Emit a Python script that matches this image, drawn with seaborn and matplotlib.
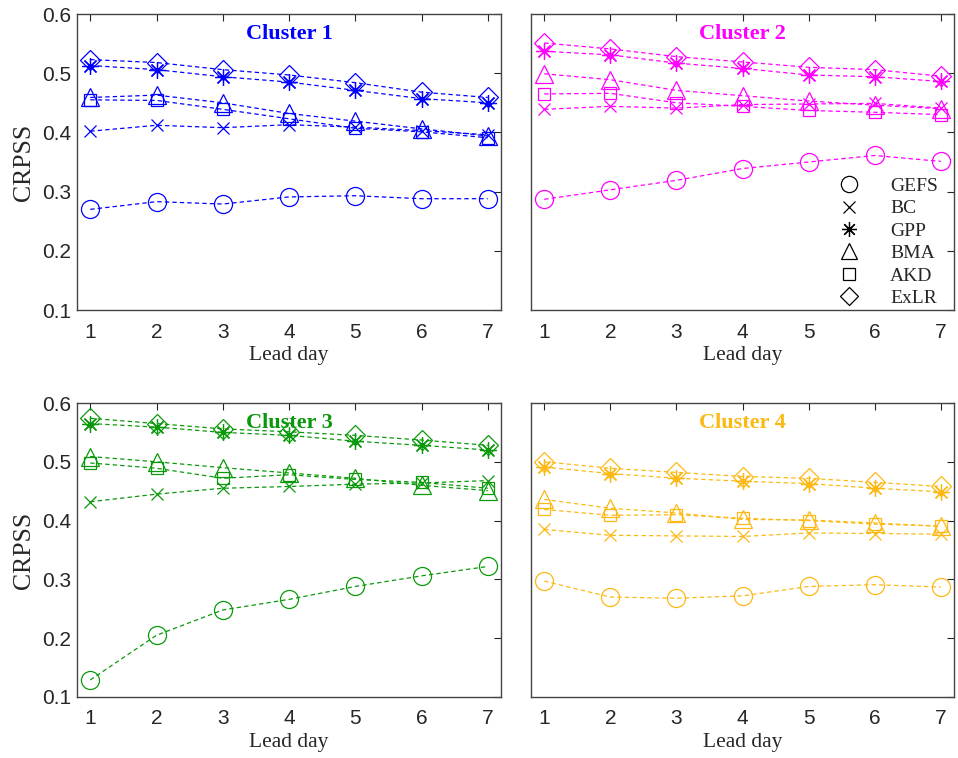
import numpy as np
import pandas as pd
import matplotlib
matplotlib.use("Agg")
import matplotlib.pyplot as plt
from matplotlib.lines import Line2D
import seaborn as sns

lead_days = [1, 2, 3, 4, 5, 6, 7]
methods = ["GEFS", "BC", "GPP", "BMA", "AKD", "ExLR"]
clusters = ["Cluster 1", "Cluster 2", "Cluster 3", "Cluster 4"]
cluster_colors = ["#0000FF", "#FF00FF", "#0A990A", "#FDB913"]

c1_gefs = [0.270, 0.283, 0.279, 0.291, 0.293, 0.288, 0.288]
c1_bc   = [0.402, 0.412, 0.408, 0.413, 0.409, 0.403, 0.396]
c1_gpp  = [0.513, 0.506, 0.494, 0.485, 0.471, 0.457, 0.450]
c1_bma  = [0.459, 0.463, 0.450, 0.432, 0.419, 0.406, 0.394]
c1_akd  = [0.455, 0.454, 0.439, 0.423, 0.407, 0.401, 0.391]
c1_exlr = [0.523, 0.518, 0.506, 0.497, 0.484, 0.468, 0.459]

c2_gefs = [0.287, 0.303, 0.319, 0.339, 0.350, 0.361, 0.351]
c2_bc   = [0.439, 0.444, 0.441, 0.447, 0.448, 0.449, 0.441]
c2_gpp  = [0.537, 0.531, 0.517, 0.508, 0.497, 0.494, 0.486]
c2_bma  = [0.499, 0.489, 0.471, 0.462, 0.453, 0.446, 0.440]
c2_akd  = [0.465, 0.466, 0.450, 0.444, 0.437, 0.434, 0.430]
c2_exlr = [0.551, 0.541, 0.528, 0.519, 0.510, 0.506, 0.495]

c3_gefs = [0.129, 0.205, 0.248, 0.266, 0.288, 0.306, 0.322]
c3_bc   = [0.432, 0.445, 0.455, 0.458, 0.462, 0.464, 0.468]
c3_gpp  = [0.565, 0.559, 0.550, 0.545, 0.535, 0.528, 0.520]
c3_bma  = [0.509, 0.500, 0.490, 0.481, 0.472, 0.460, 0.451]
c3_akd  = [0.498, 0.489, 0.472, 0.478, 0.470, 0.465, 0.455]
c3_exlr = [0.574, 0.565, 0.556, 0.551, 0.545, 0.537, 0.528]

c4_gefs = [0.297, 0.270, 0.268, 0.272, 0.288, 0.291, 0.287]
c4_bc   = [0.385, 0.375, 0.374, 0.373, 0.379, 0.378, 0.377]
c4_gpp  = [0.491, 0.480, 0.472, 0.467, 0.463, 0.455, 0.449]
c4_bma  = [0.436, 0.421, 0.413, 0.402, 0.401, 0.396, 0.390]
c4_akd  = [0.419, 0.409, 0.410, 0.404, 0.400, 0.394, 0.391]
c4_exlr = [0.500, 0.489, 0.482, 0.475, 0.472, 0.465, 0.458]

all_data = [
    [c1_gefs, c1_bc, c1_gpp, c1_bma, c1_akd, c1_exlr],
    [c2_gefs, c2_bc, c2_gpp, c2_bma, c2_akd, c2_exlr],
    [c3_gefs, c3_bc, c3_gpp, c3_bma, c3_akd, c3_exlr],
    [c4_gefs, c4_bc, c4_gpp, c4_bma, c4_akd, c4_exlr],
]

marker_map = {"GEFS": "o", "BC": "x", "GPP": (8, 2, 0), "BMA": "^", "AKD": "s", "ExLR": "D"}
msize_map = {"GEFS": 13, "BC": 9, "GPP": 12, "BMA": 13, "AKD": 9, "ExLR": 10}

sns.set_theme(style="white")
plt.rcParams["font.family"] = ["Liberation Sans", "DejaVu Sans"]
serif = ["Liberation Serif", "DejaVu Serif"]

fig = plt.figure(figsize=(9.58, 7.58), dpi=100)
W, H = 958, 758
boxes = [(77, 14, 501, 310), (531, 14, 954, 310), (77, 403, 501, 697), (531, 403, 954, 697)]

for i, (x0, y0, x1, y1) in enumerate(boxes):
    ax = fig.add_axes([x0 / W, 1 - y1 / H, (x1 - x0) / W, (y1 - y0) / H])
    color = cluster_colors[i]
    for m, vals in zip(methods, all_data[i]):
        df = pd.DataFrame({"day": lead_days, "crpss": vals})
        sns.lineplot(data=df, x="day", y="crpss", ax=ax, color=color,
                     linestyle=(0, (3.5, 2.5)), linewidth=0.9,
                     marker=marker_map[m], markersize=msize_map[m],
                     markerfacecolor="none", markeredgecolor=color,
                     markeredgewidth=0.9, legend=False)
    ax.set_xlim(0.8, 7.2)
    ax.set_ylim(0.1, 0.6)
    ax.set_xticks(lead_days)
    ax.set_yticks([0.1, 0.2, 0.3, 0.4, 0.5, 0.6])
    ax.tick_params(direction="in", top=True, right=True, length=5, width=0.8,
                   labelsize=15, colors="#262626")
    ax.tick_params(axis="x", pad=9)
    ax.tick_params(axis="y", pad=4)
    if i % 2 == 0:
        ax.set_yticklabels(["0.1", "0.2", "0.3", "0.4", "0.5", "0.6"])
        ax.set_ylabel("CRPSS", fontsize=18.5, family=serif, color="#262626", labelpad=5)
    else:
        ax.set_yticklabels([])
        ax.set_ylabel("")
    ax.set_xlabel("Lead day", fontsize=15.5, family=serif, color="#262626", labelpad=3)
    for s in ax.spines.values():
        s.set_color("#444444")
        s.set_linewidth(1.0)
    ax.text(0.5, 0.932, clusters[i], transform=ax.transAxes, ha="center", va="center",
            fontsize=16, fontweight="bold", family=serif, color=color)
    if i == 1:
        handles = [Line2D([], [], linestyle="none", marker=marker_map[m],
                          markersize=msize_map[m] * 0.9, markerfacecolor="none",
                          markeredgecolor="black", markeredgewidth=0.9, color="black")
                   for m in methods]
        ax.legend(handles, methods, loc="lower right", bbox_to_anchor=(0.99, -0.03),
                  frameon=False,
                  prop={"family": serif, "size": 14}, handletextpad=1.35,
                  labelspacing=0.25, borderaxespad=0.2, handlelength=1.5)

fig.savefig("out.png", dpi=100)
